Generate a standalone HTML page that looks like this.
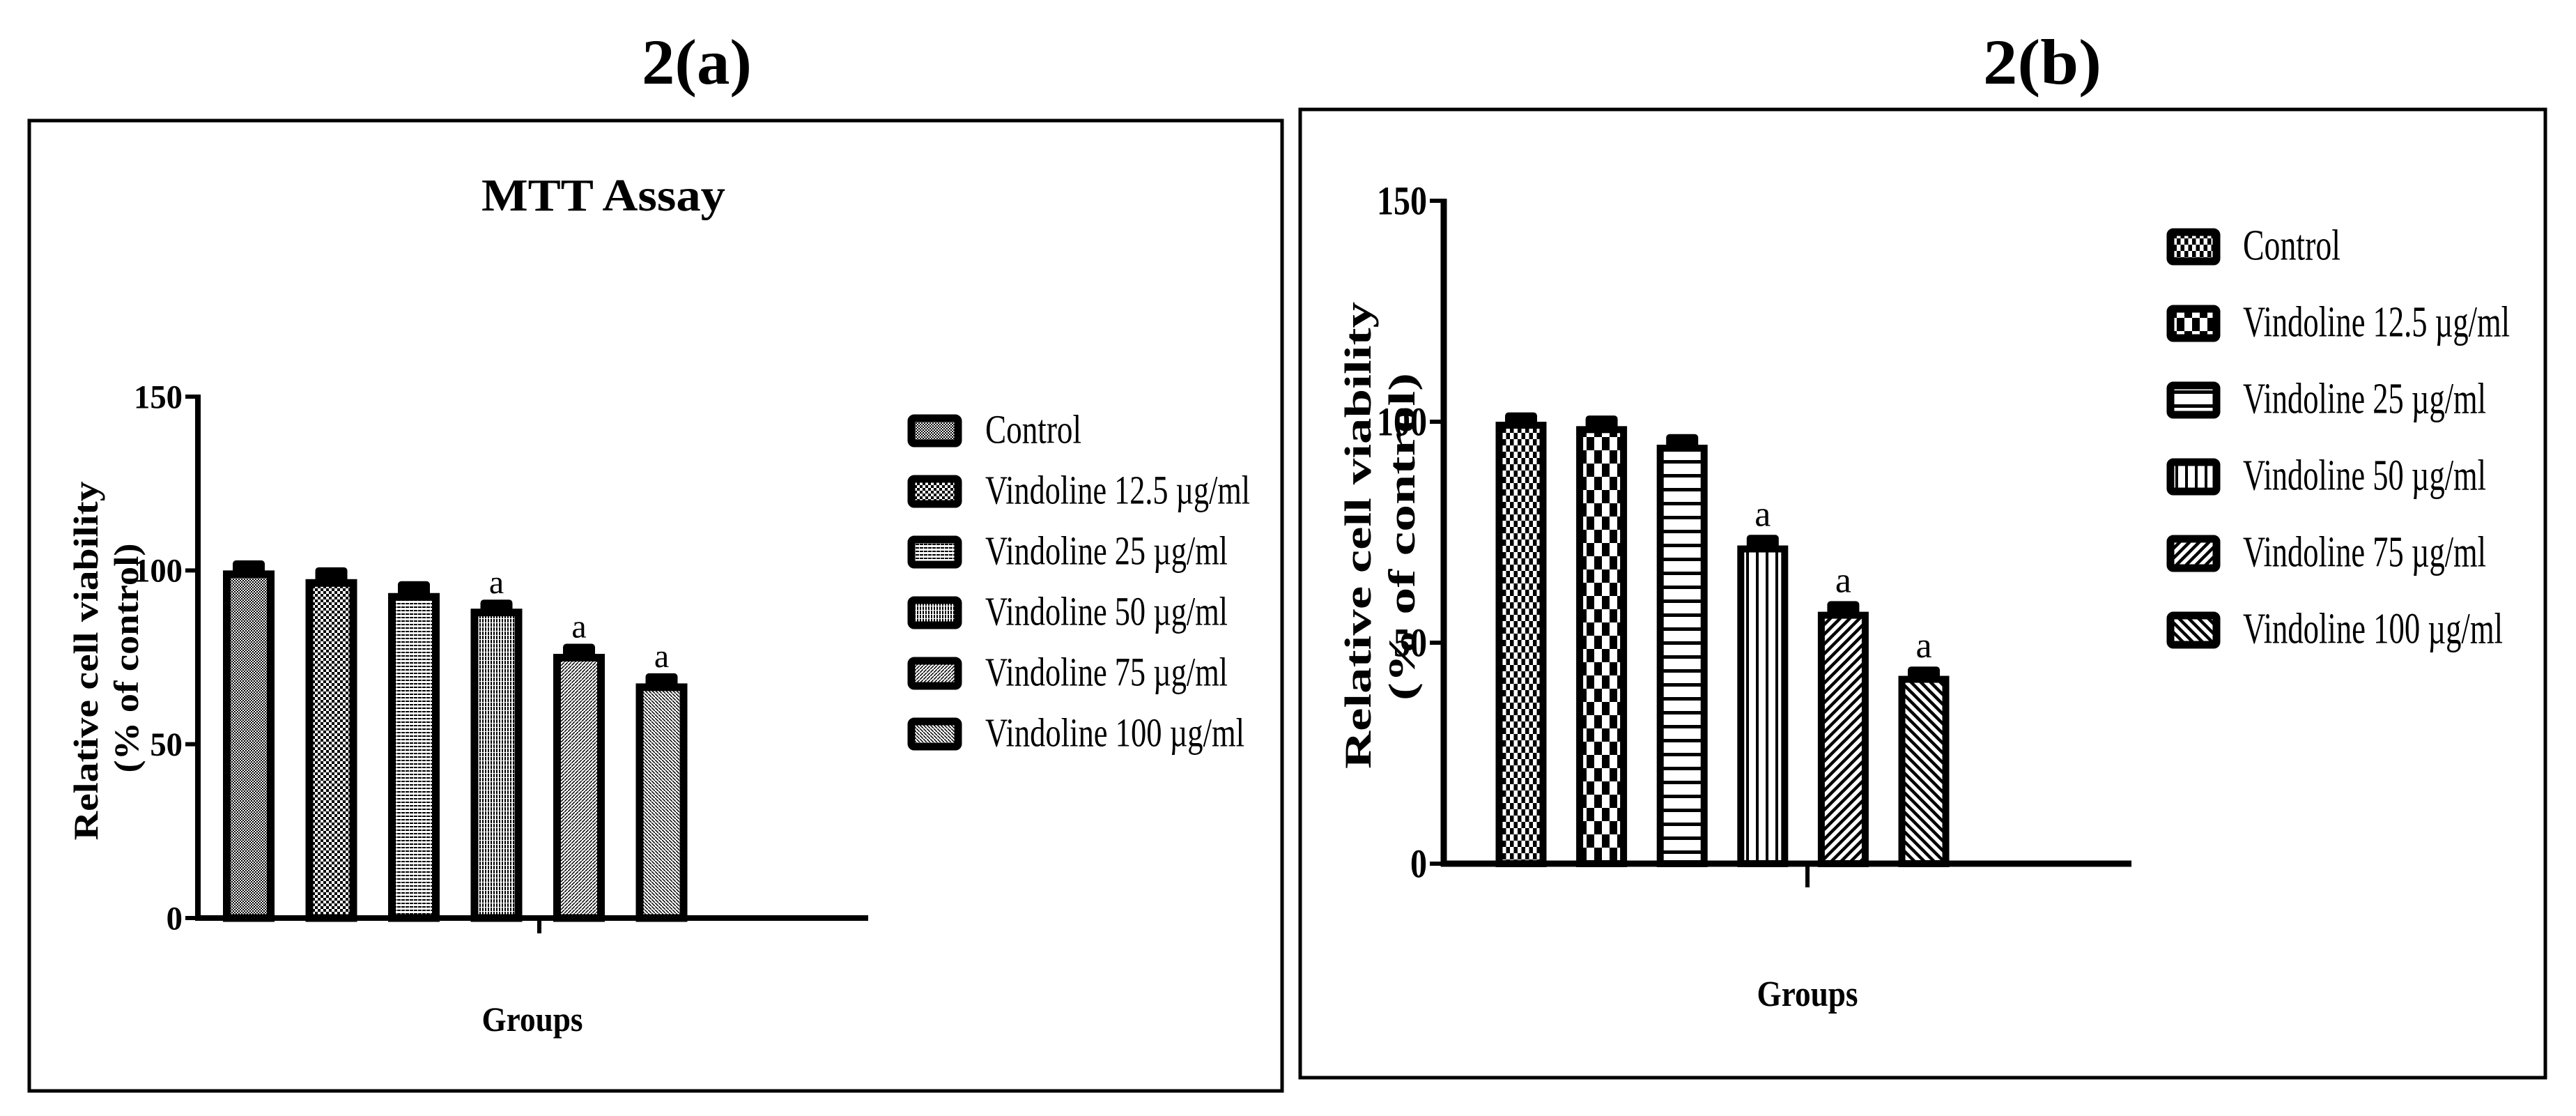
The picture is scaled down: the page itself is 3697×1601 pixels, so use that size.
<!DOCTYPE html>
<html><head><meta charset="utf-8"><style>
html,body{margin:0;padding:0;background:#fff;}
svg{display:block;}
text{font-family:"Liberation Serif",serif;fill:#000;}
.b{font-weight:bold;}
</style></head><body>
<svg id="fig" width="3697" height="1601" viewBox="0 0 3697 1601" xmlns="http://www.w3.org/2000/svg">
<defs>
<pattern id="pa0" width="4" height="4" patternUnits="userSpaceOnUse"><rect width="4" height="4" fill="#fff"/><rect width="2" height="2" fill="#000"/><rect x="2" y="2" width="2" height="2" fill="#000"/></pattern>
<pattern id="pa1" width="8" height="8" patternUnits="userSpaceOnUse"><rect width="8" height="8" fill="#fff"/><rect width="4" height="4" fill="#000"/><rect x="4" y="4" width="4" height="4" fill="#000"/></pattern>
<pattern id="pa2" width="6" height="5" patternUnits="userSpaceOnUse"><rect width="6" height="5" fill="#fff"/><rect width="5" height="2" fill="#000"/></pattern>
<pattern id="pa3" width="4" height="6" patternUnits="userSpaceOnUse"><rect width="4" height="6" fill="#fff"/><rect width="2" height="5" fill="#000"/></pattern>
<pattern id="pa4" width="5" height="5" patternUnits="userSpaceOnUse"><rect width="5" height="5" fill="#fff"/><path d="M0 5L5 0" stroke="#000" stroke-width="1.5"/></pattern>
<pattern id="pa5" width="5" height="5" patternUnits="userSpaceOnUse"><rect width="5" height="5" fill="#fff"/><path d="M0 0L5 5" stroke="#000" stroke-width="1.5"/></pattern>
<pattern id="pb0" width="11" height="18" patternUnits="userSpaceOnUse"><rect width="11" height="18" fill="#fff"/><rect width="5.5" height="9" fill="#000"/><rect x="5.5" y="9" width="5.5" height="9" fill="#000"/></pattern>
<pattern id="pb1" width="22" height="38" patternUnits="userSpaceOnUse"><rect width="22" height="38" fill="#fff"/><rect width="11" height="19" fill="#000"/><rect x="11" y="19" width="11" height="19" fill="#000"/></pattern>
<pattern id="pb2" width="20" height="20" patternUnits="userSpaceOnUse"><rect width="20" height="20" fill="#fff"/><rect width="20" height="5" fill="#000"/></pattern>
<pattern id="pb3" width="14" height="20" patternUnits="userSpaceOnUse"><rect width="14" height="20" fill="#fff"/><rect width="4" height="20" fill="#000"/></pattern>
<pattern id="pb4" width="14" height="14" patternUnits="userSpaceOnUse"><rect width="14" height="14" fill="#fff"/><path d="M-4 4L4 -4M0 14L14 0M10 18L18 10" stroke="#000" stroke-width="4.5"/></pattern>
<pattern id="pb5" width="14" height="14" patternUnits="userSpaceOnUse"><rect width="14" height="14" fill="#fff"/><path d="M-4 10L4 18M0 0L14 14M10 -4L18 4" stroke="#000" stroke-width="4.5"/></pattern>
</defs>
<g id="root"></g>
</svg>
<script>
const categories = ["Control","Vindoline 12.5 µg/ml","Vindoline 25 µg/ml","Vindoline 50 µg/ml","Vindoline 75 µg/ml","Vindoline 100 µg/ml"];
const valuesA = [100, 97.5, 93.5, 89, 76, 67.5];
const errorsA = [1.5, 2, 2, 1.2, 1.5, 1.5];
const sigA = ["", "", "", "a", "a", "a"];
const valuesB = [100, 99, 94.8, 72, 57, 42.5];
const errorsB = [1, 1.3, 1.3, 1.3, 1.3, 1];
const sigB = ["", "", "", "a", "a", "a"];
const yTicks = [0, 50, 100, 150];
const yTickLabels = ["0", "50", "100", "150"];

const NS = "http://www.w3.org/2000/svg";
const root = document.getElementById("root");
function mk(tag, attrs, parent, txt){
  const e = document.createElementNS(NS, tag);
  for (const k in attrs) e.setAttribute(k, attrs[k]);
  if (txt !== undefined) e.textContent = txt;
  (parent || root).appendChild(e);
  return e;
}

function drawChart(c, values, errors, sig, pfx){
  const g = mk("g", {});
  
  
  const yS = v => c.y0 - (v - 0) / 150 * (c.y0 - c.y150);
  const xS = i => c.xFirst + i * c.step;
  const ya = mk("line", {x1:c.ax, y1:c.y150-3, x2:c.ax, y2:c.y0+4, stroke:"#000","stroke-width":c.axw}, g);
  
  
  const xa = mk("line", {x1:c.ax-4, y1:c.y0, x2:c.xEnd, y2:c.y0, stroke:"#000","stroke-width":c.axw}, g);
  
  
  const xt = mk("line", {x1:c.xTick, y1:c.y0, x2:c.xTick, y2:c.y0+c.xTickLen, stroke:"#000","stroke-width":6}, g);
  
  
  yTicks.forEach((t, i) => {
    const tl = mk("line", {x1:c.ax-c.tickLen, y1:yS(t), x2:c.ax, y2:yS(t), stroke:"#000","stroke-width":6}, g);
    
    
    const lab = yTickLabels[i];
    const tx = mk("text", {x:c.ax-c.tickLen-4, y:yS(t)+c.tickFs*0.34, "text-anchor":"end","font-size":c.tickFs,"class":"b", textLength:c.tickW*lab.length/3, lengthAdjust:"spacingAndGlyphs"}, g, lab);
    
    
  });
  values.forEach((v, i) => {
    const cx = xS(i), w = c.barW, sw = c.barSW;
    const top = yS(v);
    const cap = mk("rect", {x:cx-c.capW/2, y:yS(v+errors[i]) - c.capH/2, width:c.capW, height:c.capH + (top - yS(v+errors[i])), rx:5, fill:"#000"}, g);
    
    
    const r = mk("rect", {x:cx-w/2+sw/2, y:top+sw/2, width:w-sw, height:c.y0-top-sw/2, fill:"url(#"+pfx+i+")", stroke:"#000","stroke-width":sw}, g);
    
    
    if (sig[i]) {
      const s = mk("text", {x:cx, y:yS(v+errors[i]) - c.sigGap, "text-anchor":"middle","font-size":c.sigFs}, g, sig[i]);
      
      
    }
  });
  categories.forEach((cat, i) => {
    const ly = c.legY + i * c.legStep;
    const sw = mk("rect", {x:c.legX+5, y:ly-c.legH/2+5, width:c.legW-10, height:c.legH-10, rx:4, fill:"url(#"+pfx+i+")", stroke:"#000","stroke-width":11}, g);
    
    
    const t = mk("text", {x:c.legTx, y:ly+c.legFs*0.3, "font-size":c.legFs, textLength:c.legTW[i], lengthAdjust:"spacingAndGlyphs"}, g, cat);
    
    
  });
  const t1 = mk("text", {transform:"translate("+c.yt1x+","+c.yt1c+") rotate(-90)", "text-anchor":"middle","font-size":c.ytFs,"class":"b", textLength:c.yt1L, lengthAdjust:"spacingAndGlyphs", x:0, y:0}, g, "Relative cell viability");
  
  
  const t2 = mk("text", {transform:"translate("+c.yt2x+","+c.yt2c+") rotate(-90)", "text-anchor":"middle","font-size":c.ytFs,"class":"b", textLength:c.yt2L, lengthAdjust:"spacingAndGlyphs", x:0, y:0}, g, "(% of control)");
  
  
  const gx = mk("text", {x:c.gX, y:c.gY, "text-anchor":"middle","font-size":c.gFs,"class":"b", textLength:145, lengthAdjust:"spacingAndGlyphs"}, g, "Groups");
  
  
}

const boxA = mk("rect", {x:42, y:173, width:1798, height:1392, fill:"none", stroke:"#000","stroke-width":5});


const boxB = mk("rect", {x:1866, y:157, width:1787, height:1389, fill:"none", stroke:"#000","stroke-width":5});


const ta = mk("text", {x:1000, y:120, "text-anchor":"middle","font-size":92,"class":"b", textLength:158, lengthAdjust:"spacingAndGlyphs"}, root, "2(a)");


const tb = mk("text", {x:2931, y:120, "text-anchor":"middle","font-size":92,"class":"b", textLength:170, lengthAdjust:"spacingAndGlyphs"}, root, "2(b)");


const mt = mk("text", {x:866, y:302, "text-anchor":"middle","font-size":66,"class":"b", textLength:350, lengthAdjust:"spacingAndGlyphs"}, root, "MTT Assay");



drawChart({name:"chart-mtt-assay", ax:284, axw:8, y0:1317, y150:569, xEnd:1246, xTick:774, xTickLen:22, tickLen:18, tickFs:48, tickW:70,
  xFirst:357, step:118.5, barW:74, barSW:11, capW:46, capH:14, sigGap:16, sigFs:48,
  legX:1303, legW:77, legH:46, legY:618, legStep:87, legTx:1414, legFs:58, legTW:[138,380,348,348,348,372],
  yt1x:140, yt1c:948, yt1L:515, yt2x:198, yt2c:944, yt2L:329, ytFs:50, gX:764, gY:1479, gFs:50},
  valuesA, errorsA, sigA, "pa");

drawChart({name:"chart-viability-b", ax:2072, axw:9, y0:1239, y150:288, xEnd:3059, xTick:2594, xTickLen:34, tickLen:20, tickFs:58, tickW:72,
  xFirst:2183, step:115.6, barW:73, barSW:10, capW:46, capH:14, sigGap:20, sigFs:52,
  legX:3110, legW:76, legH:52, legY:354, legStep:110, legTx:3219, legFs:62, legTW:[140,383,349,349,349,373],
  yt1x:1967, yt1c:768, yt1L:670, yt2x:2030, yt2c:770, yt2L:470, ytFs:54, gX:2594, gY:1443, gFs:52},
  valuesB, errorsB, sigB, "pb");
</script>
</body></html>
